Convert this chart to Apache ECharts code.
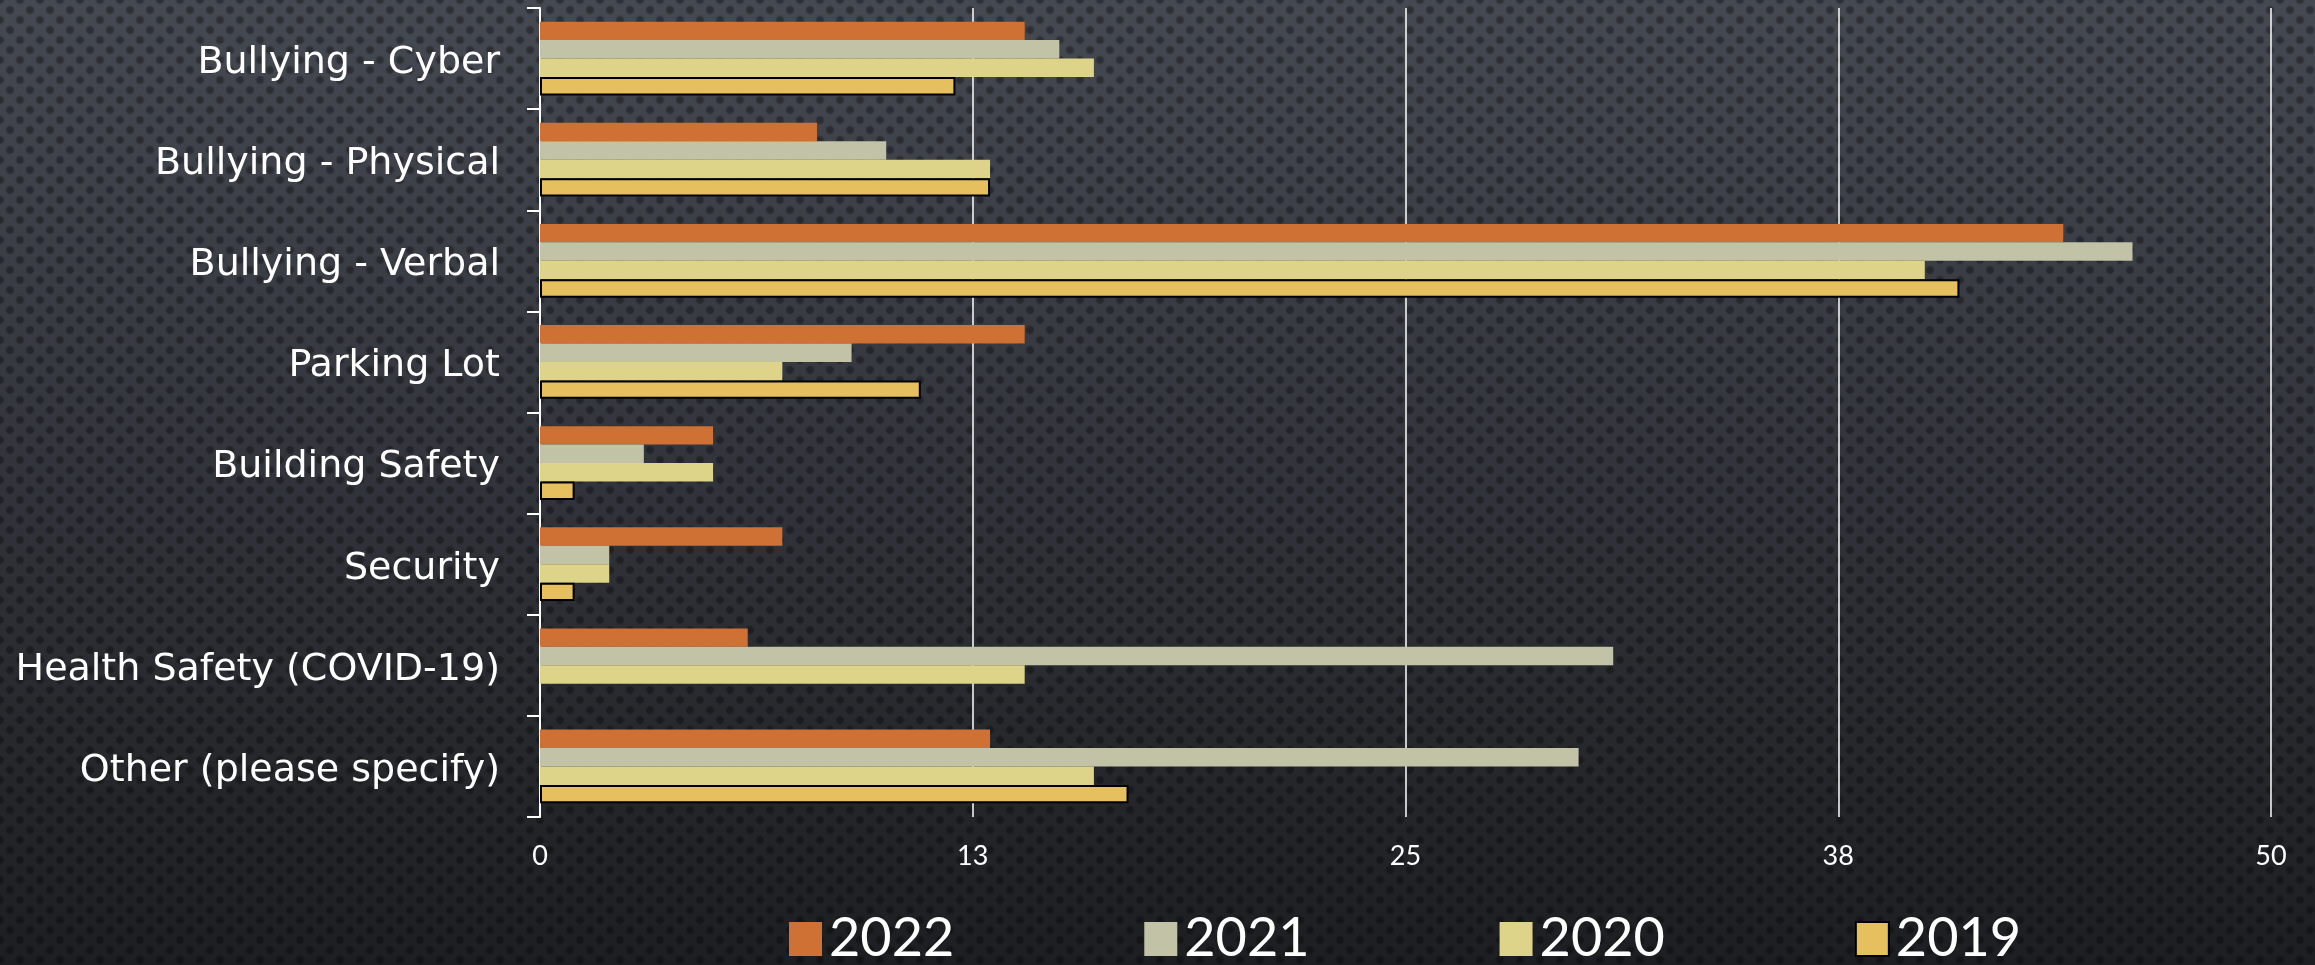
<!DOCTYPE html>
<html>
<head>
<meta charset="utf-8">
<script src="https://cdn.jsdelivr.net/npm/echarts@6/dist/echarts.min.js"></script>
<style>
  html, body { margin: 0; padding: 0; width: 2315px; height: 965px; overflow: hidden; }
  body {
    background-color: #2e3137;
    background-image:
      radial-gradient(circle at 50% 50%, rgba(0,0,0,0.38) 0px, rgba(0,0,0,0.30) 3px, rgba(0,0,0,0) 5px),
      radial-gradient(circle at 50% 50%, rgba(0,0,0,0.38) 0px, rgba(0,0,0,0.30) 3px, rgba(0,0,0,0) 5px),
      linear-gradient(to bottom, #454951 0%, #33363d 45%, #1d1e21 100%);
    background-size: 20px 20px, 20px 20px, 100% 100%;
    background-position: 0 0, 10px 10px, 0 0;
  }
  #chart { width: 2315px; height: 965px; }
</style>
</head>
<body>
<div id="chart"></div>
<script>
const categories = [
  'Bullying - Cyber',
  'Bullying - Physical',
  'Bullying - Verbal',
  'Parking Lot',
  'Building Safety',
  'Security',
  'Health Safety (COVID-19)',
  'Other (please specify)'
];
const seriesNames = ['2022', '2021', '2020', '2019'];
const values2022 = [14, 8, 44, 14, 5, 7, 6, 13];
const values2021 = [15, 10, 46, 9, 3, 2, 31, 30];
const values2020 = [16, 13, 40, 7, 5, 2, 14, 16];
const values2019 = [12, 13, 41, 11, 1, 1, null, 17];
const xTicks = [0, 12.5, 25, 37.5, 50];

const colors = ['#CF7134', '#C1C2A6', '#DDD389', '#E6BF5F'];
const allValues = [values2022, values2021, values2020, values2019];

const fontFamily = 'Lato, "Open Sans", sans-serif';
const labelFont = '"DejaVu Sans", Lato, sans-serif';

const chart = echarts.init(document.getElementById('chart'), null, { renderer: 'canvas' });

const series = seriesNames.map((name, i) => ({
  name: name,
  type: 'bar',
  data: allValues[i],
  barGap: '0%',
  barCategoryGap: '27%',
  itemStyle: i === 3
    ? { color: colors[i], borderColor: '#000000', borderWidth: 2 }
    : { color: colors[i] }
}));

chart.setOption({
  backgroundColor: 'transparent',
  animation: false,
  color: colors,
  grid: { left: 540, right: 44, top: 8, bottom: 148, containLabel: false },
  legend: {
    data: seriesNames,
    bottom: -6,
    left: 784,
    itemWidth: 33,
    itemHeight: 34,
    itemGap: 190,
    icon: 'rect',
    textStyle: { color: '#ffffff', fontSize: 54, fontFamily: fontFamily, padding: [0, 0, 0, 2] }
  },
  xAxis: {
    type: 'value',
    min: 0,
    max: 50,
    interval: 12.5,
    axisLine: { show: false },
    axisTick: { show: false },
    axisLabel: {
      color: '#ffffff',
      fontSize: 27,
      fontFamily: fontFamily,
      margin: 26,
      formatter: v => String(Math.round(v))
    },
    splitLine: { show: true, lineStyle: { color: '#ffffff', width: 1.5 } }
  },
  yAxis: {
    type: 'category',
    data: categories,
    inverse: true,
    axisLine: { show: true, lineStyle: { color: '#ffffff', width: 2 } },
    axisTick: { show: true, length: 13, lineStyle: { color: '#ffffff', width: 2 } },
    axisLabel: {
      color: '#ffffff',
      fontSize: 38,
      fontFamily: labelFont,
      margin: 40,
      formatter: v => '{t|' + v + '}',
      rich: { t: { color: '#ffffff', fontSize: 38, fontFamily: labelFont, padding: [9, 0, 0, 0] } }
    }
  },
  series: series
});
</script>
</body>
</html>
